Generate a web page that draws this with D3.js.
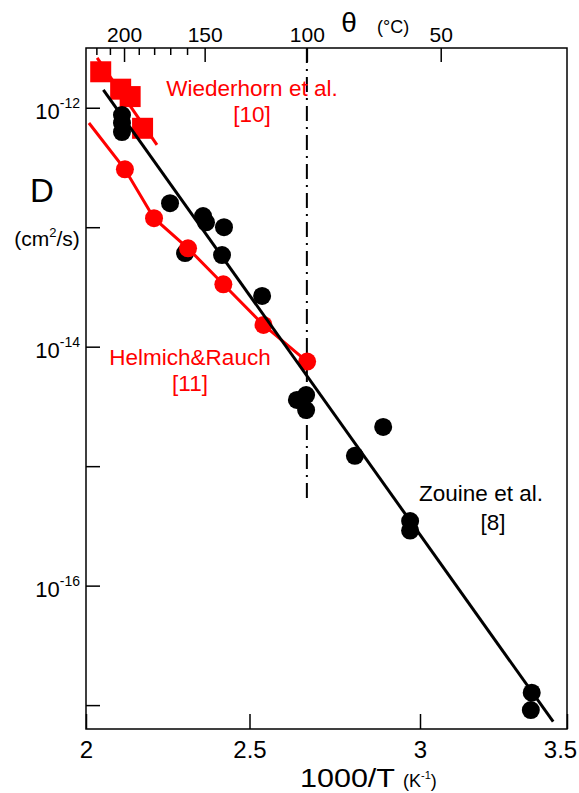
<!DOCTYPE html>
<html>
<head>
<meta charset="utf-8">
<script src="https://cdn.jsdelivr.net/npm/d3@7"></script>
<style>
  body { margin: 0; background: #fff; }
  svg { display: block; font-family: "Liberation Sans", Arial, sans-serif; }
</style>
</head>
<body>
<svg id="chart" width="579" height="793"></svg>
<script>
// Zouine et al. [8]  (1000/T in K^-1, D in cm2/s)
const zouineX = [2.110, 2.110, 2.110, 2.257, 2.358, 2.367, 2.422, 2.303, 2.416, 2.537,
                 2.639, 2.666, 2.666, 2.892, 2.809, 2.971, 2.971, 3.380, 3.377];
const zouineD = [8.69e-13, 7.45e-13, 6.26e-13, 1.59e-13, 1.24e-13, 1.10e-13, 1.00e-13, 6.08e-14, 5.85e-14, 2.66e-14,
                 3.58e-15, 3.94e-15, 2.95e-15, 2.13e-15, 1.22e-15, 3.47e-16, 2.89e-16, 1.27e-17, 9.09e-18];
const zouineFitX = [2.053, 3.453];
const zouineFitD = [1.41e-12, 7.26e-18];

// Helmich & Rauch [11]
const helmichX = [2.119, 2.208, 2.312, 2.420, 2.541, 2.669];
const helmichD = [3.05e-13, 1.19e-13, 6.66e-14, 3.33e-14, 1.52e-14, 7.51e-15];
const helmichLineX = [2.009, 2.119, 2.208, 2.312, 2.420, 2.541, 2.669];
const helmichLineD = [7.45e-13, 3.05e-13, 1.19e-13, 6.66e-14, 3.33e-14, 1.52e-14, 7.51e-15];

// Wiederhorn et al. [10]
const wiederX = [2.045, 2.106, 2.135, 2.173];
const wiederD = [2.00e-12, 1.43e-12, 1.24e-12, 6.73e-13];
const wiederFitX = [2.034, 2.217];
const wiederFitD = [2.61e-12, 4.88e-13];

// axes
const xTicks = [2, 2.5, 3, 3.5];
const yTicks = [1e-12, 1e-13, 1e-14, 1e-15, 1e-16, 1e-17];
const yLabelExp = [-12, -14, -16];
const thetaMajor = [200, 150, 100, 50];
const thetaMinor = [220, 210, 190, 180, 170, 160];
const thetaMark = 100;     // dash-dot line
const markBottomD = 5e-16;

const red = "#ff0000";
const pLeft = 86, pRight = 567, pTop = 48, pBottom = 729;

const svg = d3.select("#chart");

const x = d3.scaleLinear().domain([2, 2.5, 3, 3.5]).range([pLeft, 249.5, 420, pRight]);
const xTop = d3.scaleLinear().domain([2, 3.5]).range([87.4, 571.6]);
const y = d3.scaleLog().domain([Math.pow(10, -17.2), Math.pow(10, -11.5)]).range([pBottom, pTop]);
const invT = t => 1000 / (t + 273.15);

// bottom axis
const gx = svg.append("g")
  .attr("transform", `translate(0,${pBottom})`)
  .call(d3.axisBottom(x).tickValues(xTicks).tickSizeInner(-15).tickSizeOuter(0)
    .tickPadding(12).tickFormat(d3.format("")));
gx.select(".domain").remove();
gx.selectAll("line").attr("stroke-width", 1.5);
gx.selectAll("text").attr("font-size", 24).attr("fill", "#000")
  .attr("dx", d => d === 3.5 ? -7 : 0);

// left axis
const gy = svg.append("g")
  .attr("transform", `translate(${pLeft},0)`)
  .call(d3.axisLeft(y).tickValues(yTicks).tickSizeInner(-14).tickSizeOuter(0).tickFormat(""));
gy.select(".domain").remove();
gy.selectAll("line").attr("stroke-width", 1.5);

const ylab = svg.append("g").selectAll("text")
  .data(yLabelExp)
  .join("text")
  .attr("x", 80)
  .attr("y", d => y(Math.pow(10, d)) + 11)
  .attr("text-anchor", "end")
  .attr("font-size", 22);
ylab.append("tspan").text("10");
ylab.append("tspan").attr("font-size", 14).attr("dy", -11).text(d => d);

// top axis (theta in °C)
const gt = svg.append("g")
  .attr("transform", `translate(0,${pTop})`)
  .call(d3.axisTop(xTop).tickValues(thetaMajor.map(invT)).tickSizeInner(-14).tickSizeOuter(0)
    .tickPadding(6).tickFormat(d => Math.round(1000 / d - 273.15)));
gt.select(".domain").remove();
gt.selectAll("line").attr("stroke-width", 1.5);
gt.selectAll("text").attr("font-size", 21).attr("fill", "#000");

const gtm = svg.append("g")
  .attr("transform", `translate(0,${pTop})`)
  .call(d3.axisTop(xTop).tickValues(thetaMinor.map(invT)).tickSizeInner(-7).tickSizeOuter(0).tickFormat(""));
gtm.select(".domain").remove();
gtm.selectAll("line").attr("stroke-width", 1.5);

// frame
svg.append("rect")
  .attr("x", pLeft).attr("y", pTop)
  .attr("width", pRight - pLeft).attr("height", pBottom - pTop)
  .attr("fill", "none").attr("stroke", "#000").attr("stroke-width", 1.5);

// 100 °C mark
svg.append("line")
  .attr("x1", xTop(invT(thetaMark))).attr("x2", xTop(invT(thetaMark)))
  .attr("y1", pTop).attr("y2", y(markBottomD))
  .attr("stroke", "#000").attr("stroke-width", 2)
  .attr("stroke-dasharray", "15,6,2,6");

const line = d3.line().x(d => x(d[0])).y(d => y(d[1]));

// Wiederhorn
svg.append("path")
  .attr("d", line(d3.zip(wiederFitX, wiederFitD)))
  .attr("fill", "none").attr("stroke", red).attr("stroke-width", 3);
svg.append("g").selectAll("rect")
  .data(d3.zip(wiederX, wiederD))
  .join("rect")
  .attr("x", d => x(d[0]) - 10.5).attr("y", d => y(d[1]) - 10.5)
  .attr("width", 21).attr("height", 21)
  .attr("fill", red);

// Zouine points
svg.append("g").selectAll("circle")
  .data(d3.zip(zouineX, zouineD))
  .join("circle")
  .attr("cx", d => x(d[0])).attr("cy", d => y(d[1]))
  .attr("r", 9).attr("fill", "#000");

// Helmich & Rauch
svg.append("path")
  .attr("d", line(d3.zip(helmichLineX, helmichLineD)))
  .attr("fill", "none").attr("stroke", red).attr("stroke-width", 3);
svg.append("g").selectAll("circle")
  .data(d3.zip(helmichX, helmichD))
  .join("circle")
  .attr("cx", d => x(d[0])).attr("cy", d => y(d[1]))
  .attr("r", 9).attr("fill", red);

// Zouine fit
svg.append("path")
  .attr("d", line(d3.zip(zouineFitX, zouineFitD)))
  .attr("fill", "none").attr("stroke", "#000").attr("stroke-width", 3);

// labels
const label = (txt, px, py, size, color, anchor) => svg.append("text")
  .attr("x", px).attr("y", py)
  .attr("font-size", size).attr("fill", color)
  .attr("text-anchor", anchor || "middle")
  .text(txt);

label("Wiederhorn et al.", 252, 96, 22.5, red);
label("[10]", 252, 122, 22.5, red);
label("Helmich&Rauch", 190, 365, 22.5, red);
label("[11]", 190, 391, 22.5, red);
label("Zouine et al.", 481, 501, 22.5, "#000");
label("[8]", 493, 530, 22.5, "#000");

label("θ", 349, 32, 28, "#000");
label("(°C)", 377, 33, 18, "#000", "start");
label("D", 42, 202, 33, "#000");

const cm = label("(cm", 47, 246, 21, "#000");
cm.append("tspan").attr("font-size", 13).attr("dy", -9).text("2");
cm.append("tspan").attr("dy", 9).text("/s)");

label("1000/T", 300, 787, 25, "#000", "start")
  .attr("textLength", 95).attr("lengthAdjust", "spacingAndGlyphs");
const kl = label("(K", 403, 787, 18, "#000", "start");
kl.append("tspan").attr("font-size", 11).attr("dy", -8).text("-1");
kl.append("tspan").attr("dy", 8).text(")");
</script>
</body>
</html>
